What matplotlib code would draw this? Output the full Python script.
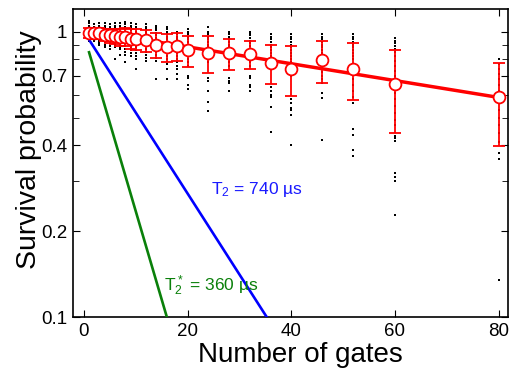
import numpy as np
import matplotlib
matplotlib.use('Agg')
import matplotlib.pyplot as plt
from matplotlib.ticker import FixedLocator, NullFormatter, FixedFormatter

plt.rcParams['font.family'] = ['Liberation Sans', 'DejaVu Sans']
plt.rcParams['mathtext.default'] = 'regular'

# gate counts and mean survival with error bars
gates = [1, 2, 3, 4, 5, 6, 7, 8, 9, 10, 12, 14, 16, 18, 20, 24, 28, 32, 36, 40, 46, 52, 60, 80]
mean_surv = [0.99, 0.985, 0.985, 0.975, 0.97, 0.965, 0.958, 0.96, 0.945, 0.94, 0.932, 0.90, 0.881,
             0.888, 0.86, 0.839, 0.839, 0.835, 0.777, 0.742, 0.796, 0.742, 0.653, 0.588]
err_surv = [0.04, 0.04, 0.045, 0.05, 0.055, 0.06, 0.065, 0.07, 0.075, 0.08, 0.085, 0.09, 0.10,
            0.10, 0.107, 0.125, 0.103, 0.095, 0.124, 0.148, 0.133, 0.167, 0.21, 0.19]

# individual sequences (black dots), one list per gate count
dot_values = [
    [1.09, 1.07, 1.05, 1.04, 1.03, 1.02, 1.01, 1.0, 0.99, 0.98, 0.97, 0.96, 0.95, 0.94, 0.93],
    [1.06, 1.04, 1.03, 1.02, 1.01, 1.0, 0.99, 0.98, 0.97, 0.96, 0.95, 0.94, 0.93],
    [1.07, 1.05, 1.03, 1.02, 1.01, 1.0, 0.99, 0.98, 0.97, 0.96, 0.95, 0.93, 0.91, 0.90],
    [1.07, 1.05, 1.04, 1.02, 1.0, 0.99, 0.98, 0.97, 0.96, 0.95, 0.94, 0.92, 0.90, 0.88],
    [1.06, 1.04, 1.03, 1.01, 1.0, 0.99, 0.98, 0.97, 0.96, 0.95, 0.94, 0.93, 0.91, 0.89, 0.87],
    [1.07, 1.05, 1.03, 1.01, 1.0, 0.99, 0.98, 0.97, 0.96, 0.95, 0.93, 0.92, 0.90, 0.88, 0.80],
    [1.07, 1.05, 1.03, 1.02, 1.0, 0.99, 0.98, 0.96, 0.95, 0.94, 0.92, 0.90, 0.88, 0.87, 0.83],
    [1.08, 1.06, 1.04, 1.02, 1.0, 0.98, 0.97, 0.96, 0.94, 0.93, 0.91, 0.89, 0.87, 0.85, 0.83, 0.78],
    [1.07, 1.05, 1.03, 1.01, 0.99, 0.98, 0.96, 0.95, 0.93, 0.92, 0.90, 0.88, 0.86, 0.84, 0.82],
    [1.06, 1.04, 1.02, 1.0, 0.98, 0.97, 0.95, 0.94, 0.92, 0.90, 0.88, 0.86, 0.84, 0.82, 0.80, 0.74],
    [1.06, 1.04, 1.02, 1.0, 0.98, 0.96, 0.95, 0.93, 0.91, 0.89, 0.87, 0.85, 0.83, 0.81, 0.79],
    [1.05, 1.03, 1.01, 0.99, 0.97, 0.95, 0.93, 0.91, 0.89, 0.87, 0.85, 0.83, 0.81, 0.79, 0.68],
    [1.04, 1.02, 1.0, 0.98, 0.96, 0.94, 0.92, 0.90, 0.88, 0.86, 0.84, 0.82, 0.80, 0.77, 0.74, 0.68],
    [1.0, 0.98, 0.96, 0.94, 0.92, 0.90, 0.88, 0.86, 0.84, 0.82, 0.80, 0.78, 0.76, 0.74, 0.71, 0.68],
    [1.02, 1.0, 0.98, 0.96, 0.94, 0.92, 0.90, 0.88, 0.86, 0.84, 0.82, 0.80, 0.78, 0.76, 0.70, 0.69, 0.65, 0.63],
    [1.035, 1.0, 0.98, 0.96, 0.94, 0.92, 0.90, 0.88, 0.86, 0.84, 0.82, 0.80, 0.78, 0.69, 0.67, 0.62, 0.565, 0.525],
    [1.0, 0.98, 0.96, 0.94, 0.92, 0.90, 0.88, 0.86, 0.84, 0.82, 0.80, 0.78, 0.76, 0.69, 0.67, 0.66, 0.62],
    [1.0, 0.99, 0.97, 0.95, 0.93, 0.91, 0.89, 0.87, 0.85, 0.83, 0.80, 0.78, 0.76, 0.70, 0.69, 0.65, 0.64, 0.62],
    [0.98, 0.96, 0.94, 0.92, 0.90, 0.88, 0.86, 0.84, 0.82, 0.80, 0.78, 0.64, 0.62, 0.60, 0.59, 0.545, 0.445],
    [0.98, 0.96, 0.94, 0.92, 0.90, 0.88, 0.86, 0.84, 0.82, 0.80, 0.78, 0.76, 0.72, 0.70, 0.58, 0.56, 0.54,
     0.53, 0.51, 0.40],
    [0.98, 0.96, 0.94, 0.92, 0.90, 0.88, 0.86, 0.84, 0.82, 0.80, 0.78, 0.76, 0.74, 0.72, 0.70, 0.68, 0.66,
     0.61, 0.585, 0.416],
    [0.98, 0.96, 0.94, 0.92, 0.90, 0.88, 0.86, 0.84, 0.82, 0.80, 0.77, 0.74, 0.71, 0.68, 0.65, 0.62, 0.59,
     0.56, 0.455, 0.433, 0.386, 0.368],
    [0.95, 0.93, 0.91, 0.89, 0.87, 0.85, 0.82, 0.79, 0.76, 0.73, 0.70, 0.67, 0.64, 0.61, 0.58, 0.55, 0.52,
     0.49, 0.47, 0.43, 0.425, 0.415, 0.32, 0.31, 0.30, 0.228],
    [0.80, 0.77, 0.74, 0.71, 0.68, 0.65, 0.62, 0.59, 0.56, 0.53, 0.50, 0.47, 0.44, 0.41, 0.377, 0.359, 0.135],
]

# exponential decay models: amplitude, decay per gate
fit_amp, fit_rate = 1.013, 0.0068
t2_amp, t2_rate = 1.0, 0.0653
t2s_amp, t2s_rate = 0.976, 0.1424

fig = plt.figure(figsize=(5.09, 3.69), dpi=100)
ax = fig.add_axes([0.1434, 0.1409, 0.8546, 0.8347])

for g, vals in zip(gates, dot_values):
    ax.plot([g] * len(vals), vals, 's', color='black', ms=2.1, mew=0, zorder=2)

n = np.linspace(1, 80, 200)
ax.plot(n, t2_amp * np.exp(-t2_rate * n), color='#0000ff', lw=1.9, zorder=3)
ax.plot(n, t2s_amp * np.exp(-t2s_rate * n), color='#0a800a', lw=1.9, zorder=3)
ax.plot(n, fit_amp * np.exp(-fit_rate * n), color='red', lw=2.5, zorder=4)

ax.errorbar(gates, mean_surv, yerr=err_surv, fmt='o', color='red', mfc='white', mec='red',
            ms=8.5, mew=1.3, elinewidth=1.3, capsize=4.5, capthick=1.3, zorder=5)

ax.text(24.5, 0.279, 'T$_2$ = 740 µs', color='#1a1aff', fontsize=12.5, va='center')
ax.text(15.5, 0.129, 'T$_2^*$ = 360 µs', color='#0a800a', fontsize=12.5, va='center')

ax.set_yscale('log')
ax.set_xlim(-2.1, 81.8)
ax.set_ylim(0.1, 1.2)
ax.set_xticks([0, 20, 40, 60, 80])
ax.yaxis.set_major_locator(FixedLocator([0.1, 0.2, 0.4, 0.7, 1.0]))
ax.yaxis.set_major_formatter(FixedFormatter(['0.1', '0.2', '0.4', '0.7', '1']))
ax.yaxis.set_minor_locator(FixedLocator([0.3, 0.5, 0.6, 0.8, 0.9]))
ax.yaxis.set_minor_formatter(NullFormatter())
ax.tick_params(which='both', direction='in', top=True, right=True, labelsize=13.5)
ax.tick_params(which='major', length=5, pad=4)
ax.tick_params(which='minor', length=4)
for s in ax.spines.values():
    s.set_linewidth(1.2)

ax.set_xlabel('Number of gates', fontsize=20)
ax.set_ylabel('Survival probability', fontsize=20.5)
ax.xaxis.set_label_coords(0.522, -0.122, transform=ax.transAxes)
ax.xaxis.label.set_va('center')
ax.yaxis.set_label_coords(-0.1, 0.545, transform=ax.transAxes)
ax.yaxis.label.set_va('center')

fig.savefig('out.png', dpi=100)
